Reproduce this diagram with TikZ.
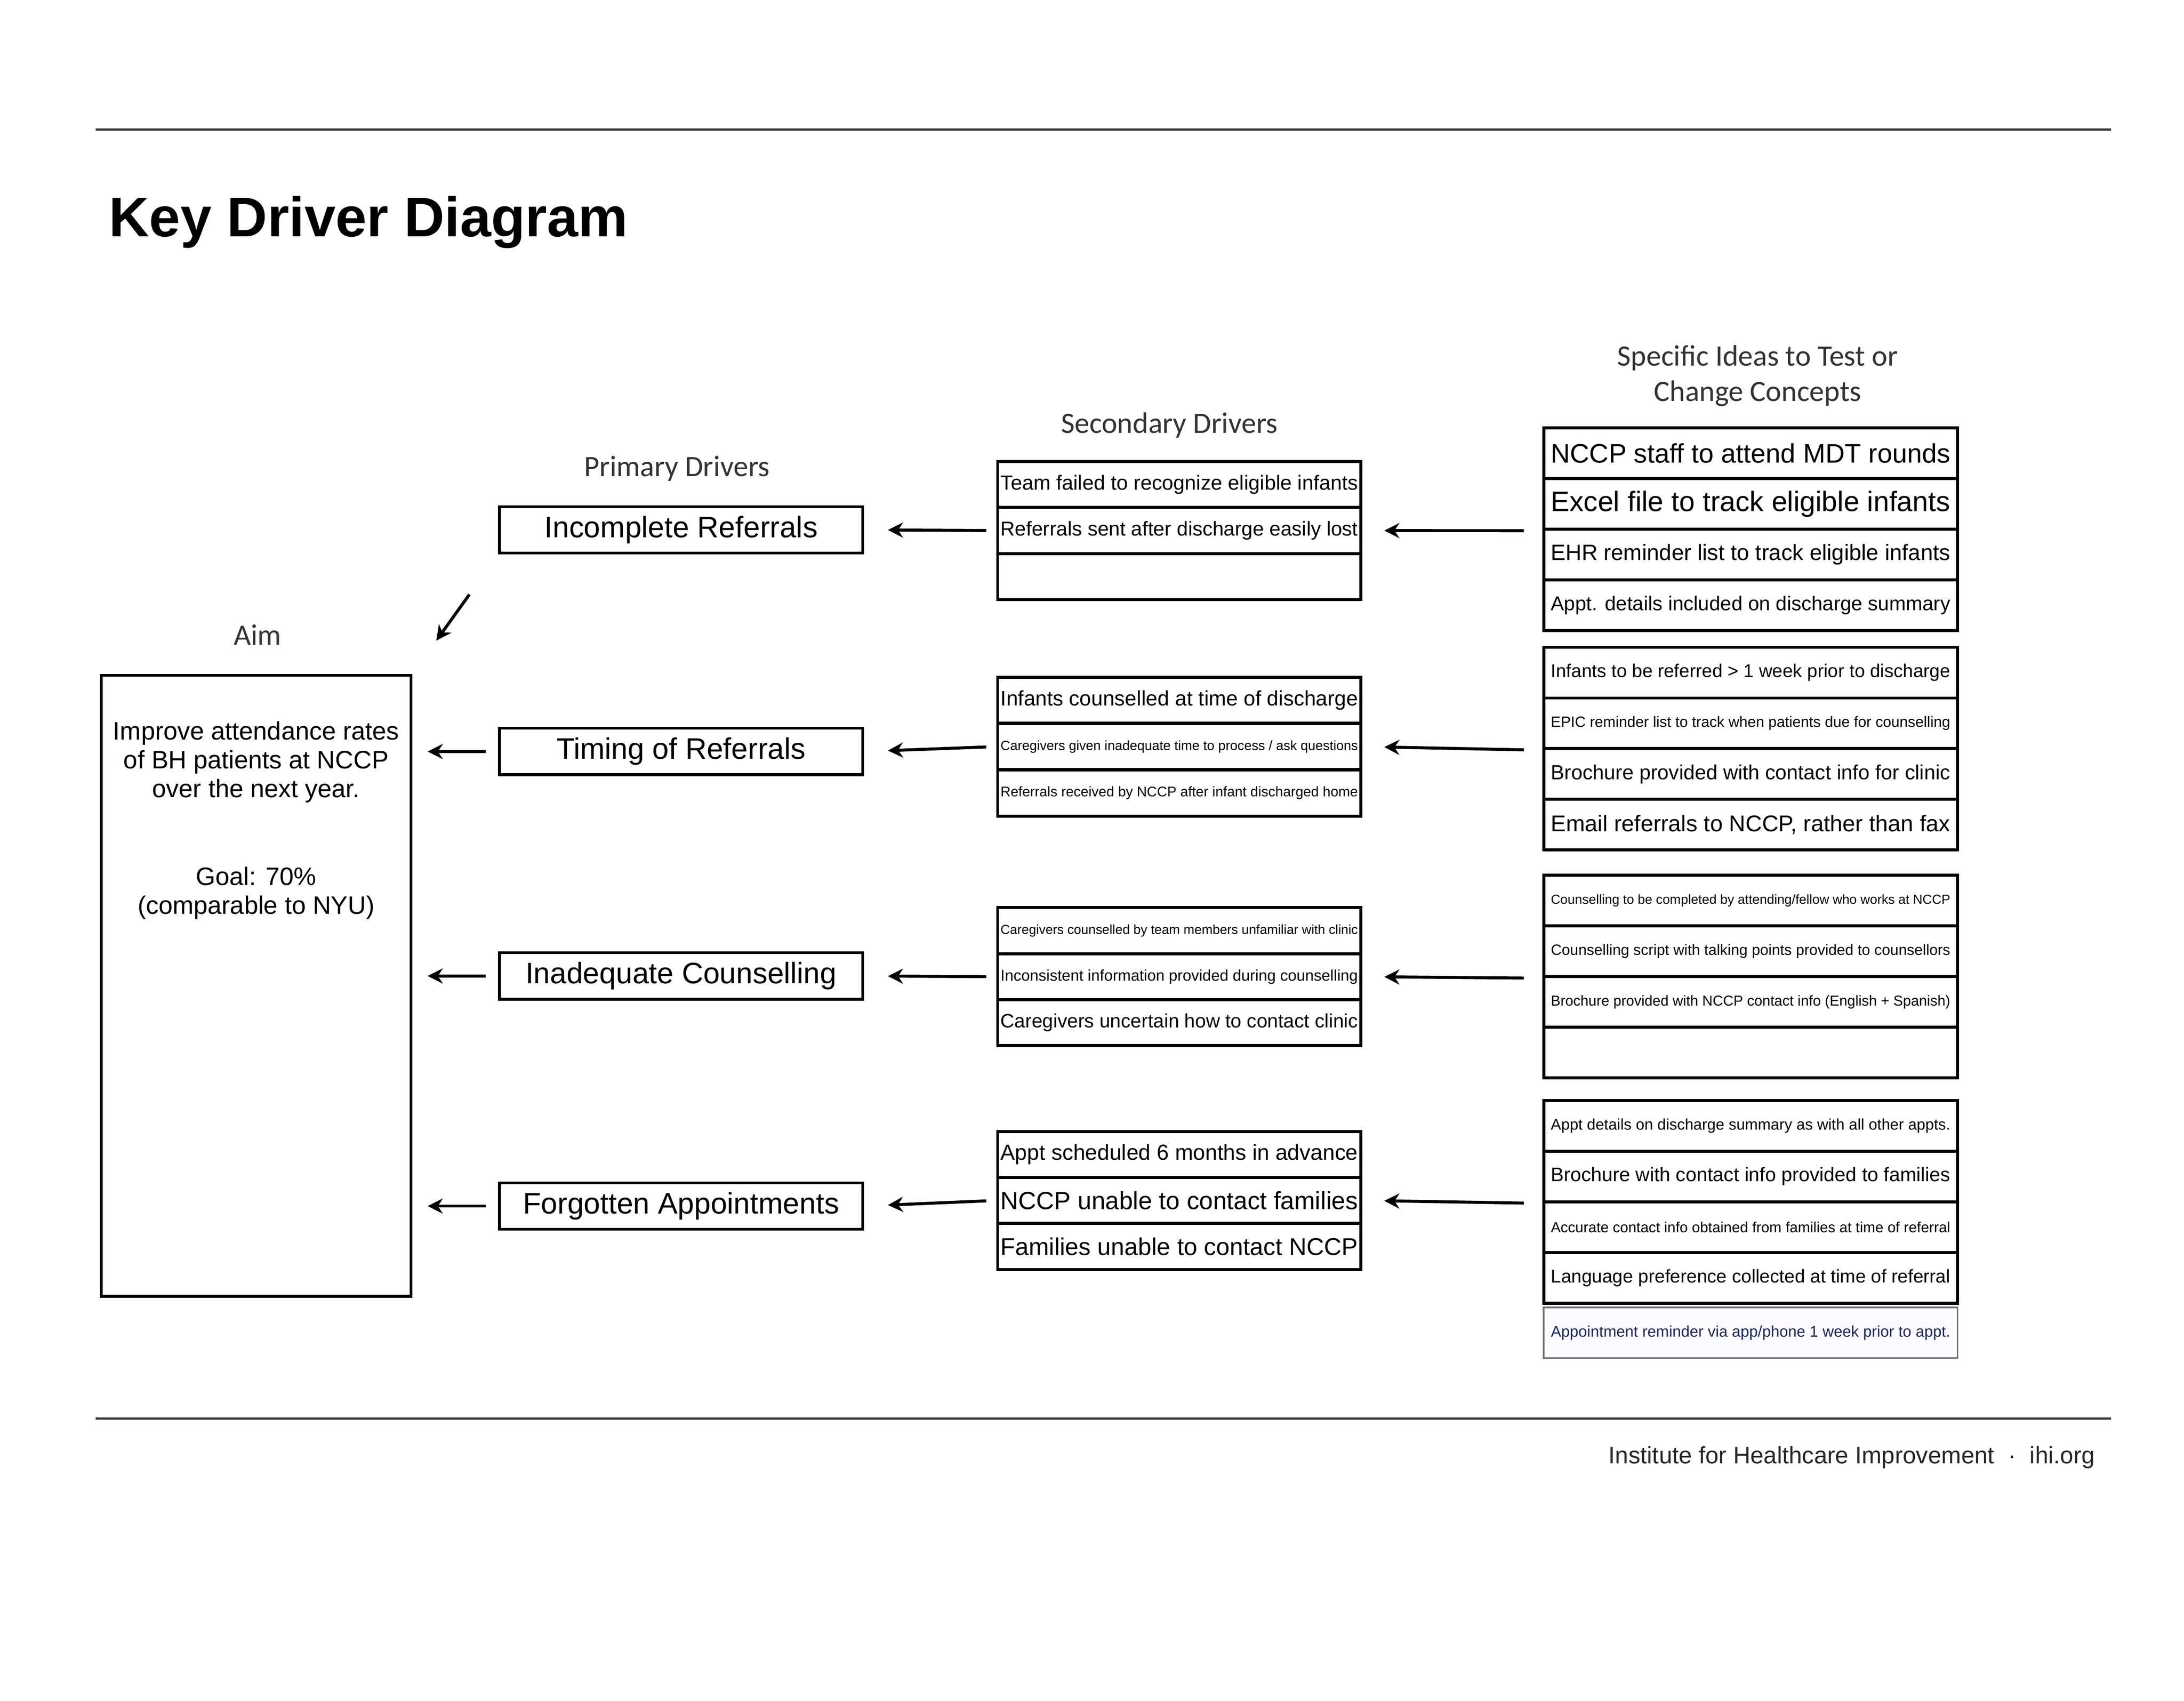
\documentclass[tikz,border=0pt]{standalone}
\usepackage{fontspec}
\usepackage{graphicx}
\usetikzlibrary{arrows.meta}
\setmainfont{Liberation Sans}
\newfontfamily\hdfont{Carlito}
\newcommand{\secfit}[1]{\resizebox{4.58cm}{!}{#1}}
\newcommand{\ideafit}[1]{\resizebox{5.12cm}{!}{#1}}

\begin{document}
\begin{tikzpicture}[x=0.018041cm, y=-0.018041cm,
  hd/.style={text=black!80, font=\hdfont\fontsize{10.8}{12.8}\selectfont, align=center},
  aimbox/.style={draw, rectangle, line width=1pt, minimum width=3.969cm, minimum height=7.956cm, inner sep=0},
  prim/.style={draw, rectangle, line width=1pt, minimum width=4.655cm, minimum height=0.595cm, inner sep=0, font=\fontsize{10.8}{13}\selectfont},
  sec/.style={draw, rectangle, line width=1.1pt, minimum width=4.655cm, minimum height=0.59cm, inner sep=0},
  idea/.style={draw, rectangle, line width=1.1pt, minimum width=5.304cm, minimum height=0.6495cm, inner sep=0},
  arr/.style={line width=1.1pt, -{Stealth[length=5.5pt,width=5.5pt]}},
  rule/.style={line width=0.7pt, black!80}]

\useasboundingbox (0,0) rectangle (1552,1208.4);

\draw[rule] (68,92) -- (1500,92);
\draw[rule] (68,1008) -- (1500,1008);
\node[anchor=base west, inner sep=0, font=\bfseries\fontsize{20.4}{24}\selectfont] (title) at (77,168) {Key Driver Diagram};
\node[anchor=base east, inner sep=0, text=black!85, font=\fontsize{8.7}{10}\selectfont] (ihi) at (1489,1040) {Institute for Healthcare Improvement\hspace{5pt}·\hspace{5pt}ihi.org};

\node[hd] (haim) at (183,451) {Aim};
\node[hd] (hprim) at (481,333) {Primary Drivers};
\node[hd] (hsec) at (831,302) {Secondary Drivers};
\node[hd] (hidea) at (1249,267) {Specific Ideas to Test or\\Change Concepts};

\node[aimbox] (aim) at (182,700.5){};
\node[font=\fontsize{9.2}{10.5}\selectfont, align=center] (aimtxt) at (182,583){Improve attendance rates\\of BH patients at NCCP\\over the next year.\\[21.5pt]Goal: 70\%\\(comparable to NYU)};

\node[prim] (p1) at (484,376.5){Incomplete Referrals};
\node[prim] (p2) at (484,534){Timing of Referrals};
\node[prim] (p3) at (484,693.5){Inadequate Counselling};
\node[prim] (p4) at (484,857){Forgotten Appointments};

\node[sec] (s11) at (838,344.3){\secfit{Team failed to recognize eligible infants}};
\node[sec] (s12) at (838,377){\secfit{Referrals sent after discharge easily lost}};
\node[sec] (s13) at (838,409.7){};

\node[sec] (s21) at (838,497.5){\secfit{Infants counselled at time of discharge}};
\node[sec] (s22) at (838,530.5){\secfit{Caregivers given inadequate time to process / ask questions}};
\node[sec] (s23) at (838,563.5){\secfit{Referrals received by NCCP after infant discharged home}};

\node[sec] (s31) at (838,661.3){\secfit{Caregivers counselled by team members unfamiliar with clinic}};
\node[sec] (s32) at (838,694){\secfit{Inconsistent information provided during counselling}};
\node[sec] (s33) at (838,726.7){\secfit{Caregivers uncertain how to contact clinic}};

\node[sec] (s41) at (838,820.3){\secfit{Appt scheduled 6 months in advance}};
\node[sec] (s42) at (838,853){\secfit{NCCP unable to contact families}};
\node[sec] (s43) at (838,885.7){\secfit{Families unable to contact NCCP}};

\node[idea] (i11) at (1244,322){\ideafit{NCCP staff to attend MDT rounds}};
\node[idea] (i12) at (1244,358){\ideafit{Excel file to track eligible infants}};
\node[idea] (i13) at (1244,394){\ideafit{EHR reminder list to track eligible infants}};
\node[idea] (i14) at (1244,430){\ideafit{Appt. details included on discharge summary}};

\node[idea] (i21) at (1244,478){\ideafit{Infants to be referred > 1 week prior to discharge}};
\node[idea] (i22) at (1244,514){\ideafit{EPIC reminder list to track when patients due for counselling}};
\node[idea] (i23) at (1244,550){\ideafit{Brochure provided with contact info for clinic}};
\node[idea] (i24) at (1244,586){\ideafit{Email referrals  to NCCP, rather than fax}};

\node[idea] (i31) at (1244,640){\ideafit{Counselling to be completed by attending/fellow who works at NCCP}};
\node[idea] (i32) at (1244,676){\ideafit{Counselling script with talking points provided to counsellors}};
\node[idea] (i33) at (1244,712){\ideafit{Brochure provided with NCCP contact info (English + Spanish)}};
\node[idea] (i34) at (1244,748){};

\node[idea] (i41) at (1244,800){\ideafit{Appt details on discharge summary as with all other appts.}};
\node[idea] (i42) at (1244,836){\ideafit{Brochure with contact info provided to families}};
\node[idea] (i43) at (1244,872){\ideafit{Accurate contact info obtained from families at time of referral}};
\node[idea] (i44) at (1244,908){\ideafit{Language preference collected at time of referral}};
\node[idea, draw=black!55, line width=0.6pt, fill=blue!2, text={rgb,255:red,30;green,40;blue,90}] (i45) at (1244,947){\ideafit{Appointment reminder via app/phone 1 week prior to appt.}};

\draw[arr, shorten <=6.7pt, shorten >=8pt] (i12.south west) -- (s12.east);
\draw[arr, shorten <=6.7pt, shorten >=8pt] (i22.south west) -- (s22.east);
\draw[arr, shorten <=6.7pt, shorten >=8pt] (i32.south west) -- (s32.east);
\draw[arr, shorten <=6.7pt, shorten >=8pt] (i42.south west) -- (s42.east);

\draw[arr, shorten <=3.6pt, shorten >=8.7pt] (s12.west) -- (p1.east);
\draw[arr, shorten <=3.6pt, shorten >=8.7pt] (s22.west) -- (p2.east);
\draw[arr, shorten <=3.6pt, shorten >=8.7pt] (s32.west) -- (p3.east);
\draw[arr, shorten <=3.6pt, shorten >=8.7pt] (s42.west) -- (p4.east);

\draw[arr, shorten <=18pt, shorten >=15pt] (p1.south west) -- (aim.north east);
\draw[arr, shorten <=4.6pt, shorten >=5.6pt] (p2.west) -- (aim.east |- p2.west);
\draw[arr, shorten <=4.6pt, shorten >=5.6pt] (p3.west) -- (aim.east |- p3.west);
\draw[arr, shorten <=4.6pt, shorten >=5.6pt] (p4.west) -- (aim.east |- p4.west);

\end{tikzpicture}
\end{document}
